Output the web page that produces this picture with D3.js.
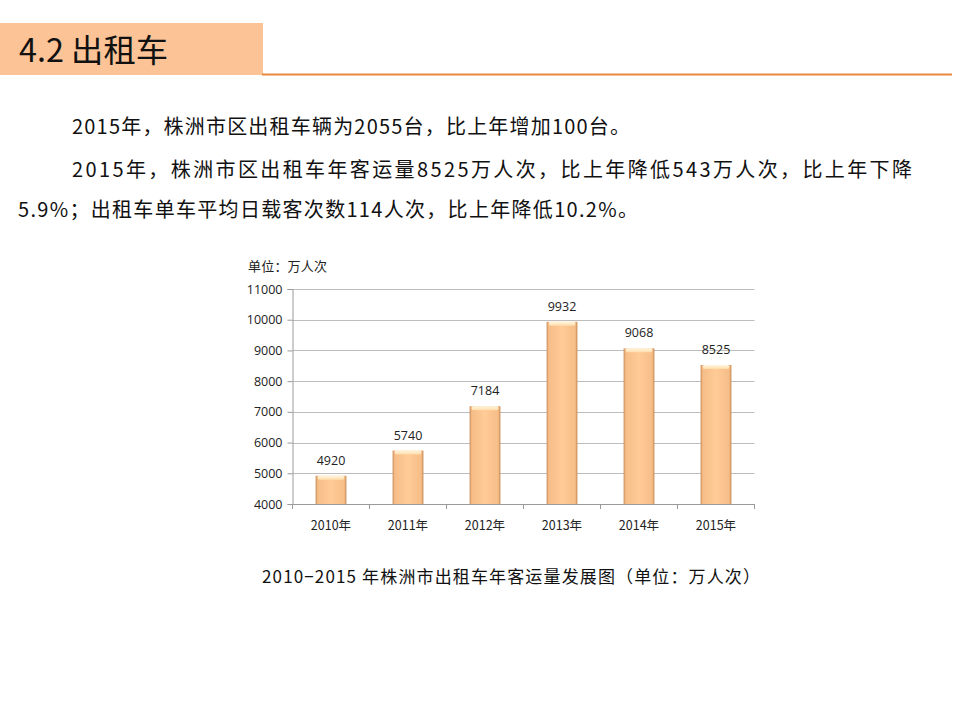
<!DOCTYPE html>
<html><head><meta charset="utf-8">
<script src="https://cdn.jsdelivr.net/npm/d3@7"></script>
<style>body{margin:0;background:#fff;} svg{display:block;}</style>
</head><body>
<script>
const categories = ["2010年","2011年","2012年","2013年","2014年","2015年"];
const values = [4920, 5740, 7184, 9932, 9068, 8525];
const yTicks = [4000,5000,6000,7000,8000,9000,10000,11000];
const titleText = "4.2 出租车";
const para1 = "2015年，株洲市区出租车辆为2055台，比上年增加100台。";
const para2a = "2015年，株洲市区出租车年客运量8525万人次，比上年降低543万人次，比上年下降";
const para2b = "5.9%；出租车单车平均日载客次数114人次，比上年降低10.2%。";
const unitLabel = "单位：万人次";
const caption = "2010−2015 年株洲市出租车年客运量发展图（单位：万人次）";

const W = 960, H = 720;
const font = "'Noto Sans CJK SC','Noto Sans',sans-serif";
const numFont = "'Open Sans','Noto Sans','DejaVu Sans',sans-serif";
const svg = d3.select("body").append("svg").attr("width", W).attr("height", H);

const defs = svg.append("defs");
const g1 = defs.append("linearGradient").attr("id","barH").attr("x1","0").attr("x2","1").attr("y1","0").attr("y2","0");
[[0,"#c98c58"],[0.07,"#f6bd88"],[0.5,"#ffcb97"],[0.93,"#f6bd88"],[1,"#c4884f"]].forEach(s=>g1.append("stop").attr("offset",s[0]).attr("stop-color",s[1]));
const g2 = defs.append("linearGradient").attr("id","barTop").attr("x1","0").attr("x2","0").attr("y1","0").attr("y2","1");
[[0,"#fff6de"],[1,"#ffdcaa"]].forEach(s=>g2.append("stop").attr("offset",s[0]).attr("stop-color",s[1]));

// header
svg.append("rect").attr("x",0).attr("y",23).attr("width",263).attr("height",52).attr("fill","#fbc396");
svg.append("line").attr("x1",262).attr("x2",952).attr("y1",74.5).attr("y2",74.5).attr("stroke","#e8893e").attr("stroke-width",2);
svg.append("text").attr("x",19).attr("y",62).attr("font-family",font).attr("font-size",32).attr("fill","#111")
  .attr("textLength",149).attr("lengthAdjust","spacingAndGlyphs").text(titleText);

// paragraphs
svg.append("text").attr("x",72).attr("y",134).attr("font-family",font).attr("font-size",20).attr("fill","#111")
  .attr("textLength",558).attr("lengthAdjust","spacing").text(para1);
svg.append("text").attr("x",72).attr("y",177).attr("font-family",font).attr("font-size",20).attr("fill","#111")
  .attr("textLength",840).attr("lengthAdjust","spacing").text(para2a);
svg.append("text").attr("x",18).attr("y",217).attr("font-family",font).attr("font-size",20).attr("fill","#111")
  .attr("textLength",620).attr("lengthAdjust","spacing").text(para2b);

// chart
const pLeft = 292.5, pRight = 754.5, pTop = 289, pBottom = 504;
const x = d3.scaleBand().domain(categories).range([pLeft,pRight]).paddingInner(0.6).paddingOuter(0.3);
const y = d3.scaleLinear().domain([4000,11000]).range([pBottom,pTop]);

const chart = svg.append("g");
chart.selectAll("line.grid").data(yTicks).enter().append("line")
  .attr("x1",pLeft).attr("x2",pRight).attr("y1",d=>Math.round(y(d))+0.5).attr("y2",d=>Math.round(y(d))+0.5)
  .attr("stroke","#bdbdbd").attr("stroke-width",1);

const yAxis = d3.axisLeft(y).tickValues(yTicks).tickSize(5).tickFormat(d3.format("d"));
const yg = chart.append("g").attr("transform",`translate(${pLeft},0)`).call(yAxis);
yg.select(".domain").attr("stroke","#9a9a9a");
yg.selectAll(".tick line").attr("stroke","#9a9a9a");
yg.selectAll("text").attr("font-family",numFont).attr("font-size",12.5).attr("fill","#222").attr("x",-10);

const xBoundaries = d3.range(categories.length+1).map(i=>pLeft + i*(pRight-pLeft)/categories.length);
chart.append("line").attr("x1",pLeft).attr("x2",pRight).attr("y1",pBottom+0.5).attr("y2",pBottom+0.5).attr("stroke","#9a9a9a");
chart.selectAll("line.xt").data(xBoundaries).enter().append("line")
  .attr("x1",d=>d).attr("x2",d=>d).attr("y1",pBottom).attr("y2",pBottom+5).attr("stroke","#9a9a9a");
chart.selectAll("text.xl").data(categories).enter().append("text")
  .attr("x",d=>x(d)+x.bandwidth()/2).attr("y",pBottom+26).attr("text-anchor","middle")
  .attr("font-family",font).attr("font-size",12.5).attr("fill","#222").text(d=>d);

const bars = chart.selectAll("g.bar").data(values).enter().append("g");
bars.append("rect").attr("x",(d,i)=>x(categories[i])).attr("y",d=>y(d)).attr("width",x.bandwidth())
  .attr("height",d=>pBottom-y(d)).attr("fill","url(#barH)");
bars.append("rect").attr("x",(d,i)=>x(categories[i])+2).attr("y",d=>y(d)).attr("width",x.bandwidth()-4)
  .attr("height",4).attr("rx",2).attr("fill","url(#barTop)");
bars.append("text").attr("x",(d,i)=>x(categories[i])+x.bandwidth()/2).attr("y",d=>y(d)-11)
  .attr("text-anchor","middle").attr("font-family",numFont).attr("font-size",12.5).attr("fill","#222").text(d=>d);

svg.append("text").attr("x",248).attr("y",271).attr("font-family",font).attr("font-size",13).attr("fill","#222")
  .attr("textLength",79).attr("lengthAdjust","spacing").text(unitLabel);

svg.append("text").attr("x",262).attr("y",583).attr("font-family",font).attr("font-size",17).attr("fill","#111")
  .attr("textLength",498).attr("lengthAdjust","spacing").text(caption);
</script>
</body></html>
